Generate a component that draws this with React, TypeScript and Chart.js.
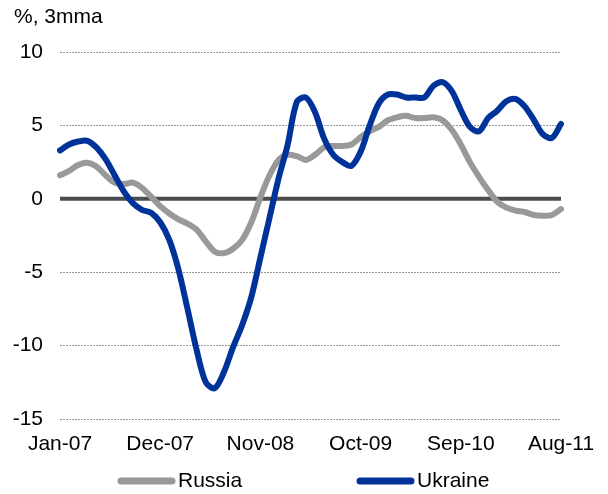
import React, { useEffect, useRef } from "react";
import { Chart, registerables } from "chart.js";

Chart.register(...registerables);

const monthNames = ["Jan", "Feb", "Mar", "Apr", "May", "Jun", "Jul", "Aug", "Sep", "Oct", "Nov", "Dec"];
const categories: string[] = [];
for (let y = 2007; y <= 2011; y++) {
  for (let m = 0; m < 12; m++) {
    if (y === 2011 && m > 7) break;
    categories.push(`${monthNames[m]}-${String(y).slice(2)}`);
  }
}
const tickLabels = ["Jan-07", "Dec-07", "Nov-08", "Oct-09", "Sep-10", "Aug-11"];

const russia = [
  1.6, 1.9, 2.3, 2.45, 2.2, 1.6, 1.1, 1.0, 1.1, 0.75, 0.15, -0.5,
  -1.0, -1.4, -1.7, -2.1, -2.9, -3.6, -3.7, -3.4, -2.8, -1.6, 0.1, 1.6,
  2.65, 3.0, 2.9, 2.65, 3.0, 3.5, 3.6, 3.6, 3.7, 4.2, 4.6, 4.9,
  5.35, 5.55, 5.65, 5.5, 5.5, 5.55, 5.35, 4.7, 3.7, 2.5, 1.5, 0.6,
  -0.2, -0.6, -0.8, -0.9, -1.1, -1.15, -1.1, -0.7,
];
const ukraine = [
  3.3, 3.7, 3.9, 3.95, 3.5, 2.7, 1.6, 0.5, -0.3, -0.75, -0.95, -1.6,
  -2.8, -4.8, -7.5, -10.3, -12.5, -12.9, -11.8, -10.1, -8.6, -6.7, -4.0, -1.3,
  1.4, 3.7, 6.6, 6.9, 5.9, 4.1, 3.0, 2.5, 2.25, 3.2, 5.0, 6.5,
  7.1, 7.1, 6.9, 6.9, 6.9, 7.7, 7.95, 7.35, 6.05, 4.9, 4.6, 5.5,
  6.0, 6.65, 6.8, 6.3, 5.4, 4.4, 4.15, 5.1,
];

const FONT = "'Liberation Sans', Arial, sans-serif";
const FS = 21;
const BLUE = "#003399";
const GREY = "#999999";

const extras = {
  id: "extras",
  beforeDatasetsDraw(chart: any) {
    const { ctx, chartArea, scales } = chart;
    const y0 = scales.y.getPixelForValue(0);
    ctx.save();
    ctx.strokeStyle = "#4d4d4d";
    ctx.lineWidth = 4;
    ctx.beginPath();
    ctx.moveTo(chartArea.left, y0);
    ctx.lineTo(chartArea.right, y0);
    ctx.stroke();
    ctx.restore();
  },
  afterDraw(chart: any) {
    const { ctx } = chart;
    ctx.save();
    ctx.font = `${FS}px ${FONT}`;
    ctx.fillStyle = "#000";
    ctx.textBaseline = "middle";
    ctx.textAlign = "left";
    ctx.fillText("%, 3mma", 14, 17);
    const items = [
      { label: "Russia", color: GREY, x: 118 },
      { label: "Ukraine", color: BLUE, x: 357 },
    ];
    const ly = 481;
    for (const it of items) {
      ctx.strokeStyle = it.color;
      ctx.lineWidth = 7;
      ctx.lineCap = "round";
      ctx.beginPath();
      ctx.moveTo(it.x + 3, ly);
      ctx.lineTo(it.x + 54, ly);
      ctx.stroke();
      ctx.fillText(it.label, it.x + 60, ly);
    }
    ctx.restore();
  },
};

export default function App() {
  const ref = useRef<HTMLCanvasElement>(null);
  useEffect(() => {
    if (!ref.current) return;
    const chart = new Chart(ref.current, {
      type: "line",
      data: {
        labels: categories,
        datasets: [
          {
            label: "Russia",
            data: russia,
            borderColor: GREY,
            backgroundColor: GREY,
            borderWidth: 6,
            pointRadius: 0,
            tension: 0.3,
            borderCapStyle: "round",
            borderJoinStyle: "round",
            order: 1,
          },
          {
            label: "Ukraine",
            data: ukraine,
            borderColor: BLUE,
            backgroundColor: BLUE,
            borderWidth: 6,
            pointRadius: 0,
            tension: 0.3,
            borderCapStyle: "round",
            borderJoinStyle: "round",
            order: 0,
          },
        ],
      },
      options: {
        animation: false,
        responsive: false,
        maintainAspectRatio: false,
        layout: { padding: { left: 0, top: 52, right: 47, bottom: 35 } },
        plugins: {
          legend: { display: false },
          tooltip: { enabled: false },
        },
        scales: {
          x: {
            type: "category",
            offset: false,
            grid: { display: false, drawTicks: false },
            border: { display: false },
            afterFit: (s: any) => {
              s.height = 40;
            },
            ticks: {
              autoSkip: false,
              maxRotation: 0,
              minRotation: 0,
              padding: 13,
              color: "#000",
              font: { family: FONT, size: FS },
              callback: function (this: any, _v: any, i: number) {
                const lab = categories[i];
                return tickLabels.includes(lab) ? lab : "";
              },
            },
          },
          y: {
            min: -15,
            max: 10,
            afterFit: (s: any) => {
              s.width = 60;
            },
            grid: {
              drawTicks: false,
              color: (c: any) => (c.tick && c.tick.value === 0 ? "rgba(0,0,0,0)" : "#9a9a9a"),
              lineWidth: 1,
            },
            border: { display: false, dash: [2, 1] },
            ticks: {
              stepSize: 5,
              padding: 17,
              color: "#000",
              font: { family: FONT, size: FS },
            },
          },
        },
      },
      plugins: [extras],
    });
    return () => chart.destroy();
  }, []);
  return (
    <div style={{ position: "fixed", left: 0, top: 0, width: 608, height: 494, background: "#fff" }}>
      <canvas ref={ref} width={608} height={494} style={{ width: 608, height: 494 }} />
    </div>
  );
}
